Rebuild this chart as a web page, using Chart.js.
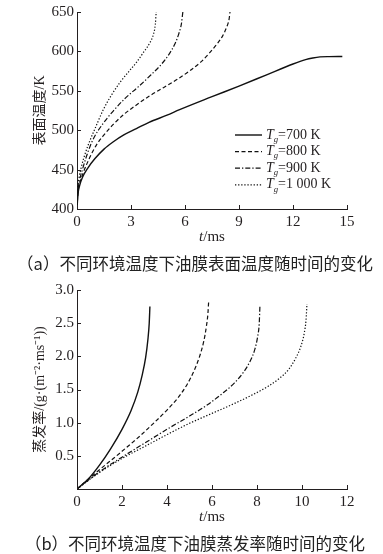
<!DOCTYPE html>
<html>
<head>
<meta charset="utf-8">
<script src="https://cdn.jsdelivr.net/npm/chart.js@4.4.1/dist/chart.umd.min.js"></script>
<style>
  body { margin: 0; background: #fff; }
  #wrap { position: relative; width: 383px; height: 554px; overflow: hidden; }
  canvas { position: absolute; left: 0; }
  .cap { position: absolute; left: 0; width: 390px; text-align: center; line-height: 22px;
         font-size: 16.5px; font-family: "Noto Sans CJK SC", sans-serif; color: #222; }
</style>
</head>
<body>
<div id="wrap">
  <canvas id="chartA" width="383" height="252" style="top:0"></canvas>
  <div class="cap" style="top:252px">（a）不同环境温度下油膜表面温度随时间的变化</div>
  <canvas id="chartB" width="383" height="255" style="top:275px"></canvas>
  <div class="cap" style="top:532px">（b）不同环境温度下油膜蒸发率随时间的变化</div>
</div>
<script>
// ---- (a) surface temperature, K vs t, ms
const time700 = [0, 0.05, 0.15, 0.3, 0.6, 1.0, 1.5, 2.0, 2.6, 3.3, 4.0, 5.0, 5.7, 7.5, 9.0, 10.5, 12.0, 12.7, 13.1, 13.5, 14.0, 14.74];
const temp700 = [400, 418, 430, 440, 452, 464, 476, 485, 494, 502, 510, 519, 526, 542.5, 556, 570, 584, 589.5, 591.6, 593, 593.4, 593.5];
const time800 = [0, 0.05, 0.15, 0.35, 0.7, 1.1, 1.5, 2.0, 2.6, 3.3, 4.0, 4.8, 5.6, 6.3, 6.9, 7.4, 7.8, 8.1, 8.3, 8.45, 8.5];
const temp800 = [400, 420, 432, 446, 465, 482, 494, 507, 520, 532, 543, 554, 565, 576, 587, 599, 610, 620, 630, 641, 650];
const time900 = [0, 0.05, 0.15, 0.3, 0.5, 0.75, 1.0, 1.4, 2.0, 2.7, 3.4, 4.1, 4.7, 5.1, 5.45, 5.65, 5.8, 5.88];
const temp900 = [400, 422, 437, 450, 465, 481, 493, 507, 524, 541, 555, 570, 584, 596, 610, 622, 635, 650];
const time1000 = [0, 0.04, 0.12, 0.26, 0.45, 0.72, 1.0, 1.46, 1.9, 2.4, 2.9, 3.3, 3.7, 4.05, 4.25, 4.35, 4.4];
const temp1000 = [400, 425, 440, 455, 470, 487, 502, 526, 544, 561, 575, 586, 599, 611, 622, 634, 650];

// ---- (b) evaporation rate vs t, ms
const time10 = [0, 0.5, 1.0, 1.5, 2.0, 2.4, 2.7, 2.9, 3.05, 3.15, 3.21, 3.24];
const rate10 = [0, 0.15, 0.36, 0.61, 0.9, 1.18, 1.46, 1.72, 1.98, 2.25, 2.5, 2.75];
const time20 = [0, 1.0, 1.9, 2.8, 3.4, 4.0, 4.5, 4.9, 5.2, 5.45, 5.63, 5.75, 5.82, 5.85];
const rate20 = [0, 0.29, 0.54, 0.8, 0.99, 1.19, 1.38, 1.58, 1.78, 2.0, 2.22, 2.45, 2.65, 2.82];
const time30 = [0, 1.0, 2.0, 3.0, 4.0, 5.0, 5.8, 6.5, 7.0, 7.4, 7.7, 7.9, 8.03, 8.1, 8.13];
const rate30 = [0, 0.26, 0.48, 0.69, 0.9, 1.1, 1.27, 1.45, 1.6, 1.76, 1.93, 2.1, 2.3, 2.5, 2.76];
const time40 = [0, 1.0, 2.0, 3.0, 4.0, 5.0, 6.0, 7.0, 7.8, 8.5, 9.0, 9.4, 9.7, 9.95, 10.1, 10.18, 10.22];
const rate40 = [0, 0.25, 0.46, 0.64, 0.82, 0.99, 1.14, 1.29, 1.42, 1.55, 1.67, 1.8, 1.96, 2.15, 2.35, 2.55, 2.79];

const legendA = [
    [{t: 'T', it: true}, {t: 'g', it: true, sub: true}, {t: '=700 K'}],
    [{t: 'T', it: true}, {t: 'g', it: true, sub: true}, {t: '=800 K'}],
    [{t: 'T', it: true}, {t: 'g', it: true, sub: true}, {t: '=900 K'}],
    [{t: 'T', it: true}, {t: 'g', it: true, sub: true}, {t: '=1 000 K'}]
];
const legendB = [
    [{t: 'δ', it: true}, {t: '0', sub: true}, {t: '=10 μm'}],
    [{t: 'δ', it: true}, {t: '0', sub: true}, {t: '=20 μm'}],
    [{t: 'δ', it: true}, {t: '0', sub: true}, {t: '=30 μm'}],
    [{t: 'δ', it: true}, {t: '0', sub: true}, {t: '=40 μm'}]
];

const INK = '#231f20';
const SERIF = '"Liberation Serif", "Times New Roman", serif';
const STYLES = [
    {borderDash: [], borderWidth: 1.4},
    {borderDash: [4, 2.5], borderWidth: 1.2},
    {borderDash: [5, 2, 1.3, 2], borderWidth: 1.2},
    {borderDash: [1.3, 1.8], borderWidth: 1.2}
];

Chart.defaults.font.family = SERIF;
Chart.defaults.color = INK;

function pairs(xs, ys) {
    return xs.map((v, i) => ({x: v, y: ys[i]}));
}

// draw a row of text pieces (italic / subscript) starting at x
function drawRuns(ctx, runs, x, y, size, measureOnly) {
    let cx = x;
    runs.forEach(r => {
        let s = r.sub ? size * 0.62 : size;
        ctx.font = (r.it ? 'italic ' : '') + s + 'px ' + SERIF;
        let dy = r.sub ? size * 0.32 : 0;
        if (!measureOnly) ctx.fillText(r.t, cx, y + dy);
        cx += ctx.measureText(r.t).width;
    });
    return cx - x;
}

const paperPlugin = {
    id: 'paper',
    afterDraw(chart, args, opts) {
        const ctx = chart.ctx;
        const xs = chart.scales.x, ys = chart.scales.y;
        ctx.save();
        // tick marks pointing into the plot
        ctx.strokeStyle = INK;
        ctx.lineWidth = 1;
        ctx.beginPath();
        xs.ticks.forEach(t => {
            const px = Math.round(xs.getPixelForValue(t.value)) + 0.5;
            ctx.moveTo(px, xs.top);
            ctx.lineTo(px, xs.top - 4);
        });
        ys.ticks.forEach(t => {
            const py = Math.round(ys.getPixelForValue(t.value)) + 0.5;
            ctx.moveTo(ys.right, py);
            ctx.lineTo(ys.right + 4, py);
        });
        ctx.stroke();

        ctx.fillStyle = INK;
        ctx.textBaseline = 'middle';
        ctx.textAlign = 'left';
        // x title  t/ms
        const xt = [{t: 't', it: true}, {t: '/ms'}];
        const w = drawRuns(ctx, xt, 0, 0, 15, true);
        drawRuns(ctx, xt, (xs.left + xs.right) / 2 - w / 2, opts.titleY, 15);

        // legend
        opts.labels.forEach((runs, i) => {
            const ds = chart.data.datasets[i];
            const y = opts.y0 + i * opts.dy;
            ctx.strokeStyle = ds.borderColor;
            ctx.lineWidth = ds.borderWidth;
            ctx.setLineDash(ds.borderDash);
            ctx.beginPath();
            ctx.moveTo(opts.x0, y);
            ctx.lineTo(opts.x1, y);
            ctx.stroke();
            ctx.setLineDash([]);
            drawRuns(ctx, runs, opts.x1 + 4, y, opts.size);
        });
        ctx.restore();
    }
};

function makeChart(id, sets, o) {
    const datasets = sets.map((d, i) => ({
        data: pairs(d[0], d[1]),
        borderColor: '#111',
        borderWidth: STYLES[i].borderWidth,
        borderDash: STYLES[i].borderDash,
        pointRadius: 0,
        fill: false,
        cubicInterpolationMode: 'monotone'
    }));

    return new Chart(document.getElementById(id), {
        type: 'line',
        data: {datasets: datasets},
        plugins: [paperPlugin],
        options: {
            responsive: false,
            animation: false,
            events: [],
            layout: {padding: {left: 0, right: 36, top: o.top, bottom: 0}},
            scales: {
                x: {
                    type: 'linear',
                    min: o.xMin, max: o.xMax,
                    afterFit: s => { s.height = o.xHeight; },
                    afterBuildTicks: s => { s.ticks = o.xTicks.map(v => ({value: v})); },
                    grid: {display: false, drawTicks: false},
                    border: {display: true, color: INK, width: 1},
                    ticks: {color: INK, padding: 4, maxRotation: 0,
                            font: {family: SERIF, size: 15},
                            callback: v => String(v)}
                },
                y: {
                    type: 'linear',
                    min: o.yMin, max: o.yMax,
                    afterFit: s => { s.width = 77; },
                    afterBuildTicks: s => { s.ticks = o.yTicks.map(v => ({value: v})); },
                    grid: {display: false, drawTicks: false},
                    border: {display: true, color: INK, width: 1},
                    ticks: {color: INK, padding: 3,
                            font: {family: SERIF, size: 15},
                            callback: o.yFormat},
                    title: {display: true, text: o.yTitle, color: INK,
                            padding: {top: 32, bottom: 0},
                            font: {family: '"Liberation Serif", "Noto Sans CJK SC", serif', size: 14}}
                }
            },
            plugins: {
                legend: {display: false},
                tooltip: {enabled: false},
                paper: o.paper
            }
        }
    });
}

const tempTicksX = [0, 3, 6, 9, 12, 15];
const tempTicksY = [400, 450, 500, 550, 600, 650];
const rateTicksX = [0, 2, 4, 6, 8, 10, 12];
const rateTicksY = [0, 0.5, 1.0, 1.5, 2.0, 2.5, 3.0];

makeChart('chartA',
    [[time700, temp700], [time800, temp800], [time900, temp900], [time1000, temp1000]],
    {
        top: 9, xHeight: 43,
        xMin: 0, xMax: 15, yMin: 400, yMax: 650,
        xTicks: tempTicksX, yTicks: tempTicksY,
        yFormat: v => String(v),
        yTitle: '表面温度/K',
        paper: {labels: legendA, x0: 235, x1: 262, y0: 135, dy: 16.6, size: 14, titleY: 237}
    });

makeChart('chartB',
    [[time10, rate10], [time20, rate20], [time30, rate30], [time40, rate40]],
    {
        top: 15, xHeight: 41,
        xMin: 0, xMax: 12, yMin: 0, yMax: 3,
        xTicks: rateTicksX, yTicks: rateTicksY,
        yFormat: v => (v === 0 ? '' : v.toFixed(1)),
        yTitle: '蒸发率/(g·(m⁻²·ms⁻¹))',
        paper: {labels: legendB, x0: 252, x1: 278, y0: 421, dy: 16.2, size: 15, titleY: 242}
    });
</script>
</body>
</html>
